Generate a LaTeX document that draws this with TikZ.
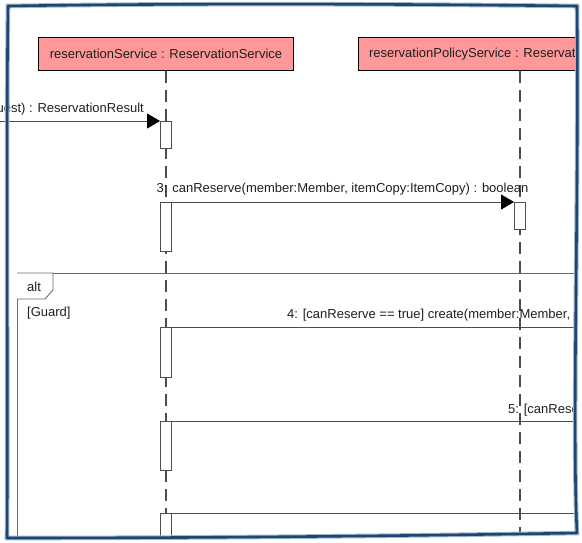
\documentclass[tikz,border=0pt]{standalone}
\usepackage{fontspec}
\setmainfont{Liberation Sans}
\usetikzlibrary{arrows.meta,positioning,calc}
\definecolor{SeqPink}{HTML}{FF9999}
\definecolor{SeqGray}{HTML}{4D4D4D}
\definecolor{FrameBlue}{HTML}{1D4772}
\definecolor{FrameShade}{HTML}{A3B7CC}

\begin{document}
\begin{tikzpicture}[x=1pt,y=-1pt, every node/.style={font=\fontsize{13}{15}\selectfont,text=black!88}, life/.style={draw=black,line width=1.6pt,fill=SeqPink,minimum width=255pt,minimum height=33pt,inner sep=0pt}, lline/.style={SeqGray,line width=1.2pt,dash pattern=on 12pt off 7pt}, act/.style={draw=SeqGray,fill=white,line width=0.9pt,minimum width=11pt,inner sep=0pt,anchor=north}, msg/.style={SeqGray,line width=0.9pt,-{Triangle[length=13pt,width=15pt,black]}}, sync/.style={SeqGray,line width=0.9pt}, frag/.style={draw=SeqGray!85,line width=0.9pt}, lbl/.style={inner sep=0pt}]
\useasboundingbox (0,0) rectangle (582,543);
\begin{scope}
\clip (0,0) rectangle (576,535);
\node[life] (resv) at (166,54) {reservationService : ReservationService};
\node[life,minimum width=323pt] (policy) at (520,54) {reservationPolicyService : ReservationPolicyService};
\coordinate (resvEnd) at (166,545);
\coordinate (policyEnd) at (520,545);
\draw[lline] (resv.south) -- (resvEnd);
\draw[lline] (policy.south) -- (policyEnd);
\draw[frag] (580,273) -- (17,273) -- (17,540);
\draw[frag,fill=white] (17,273) -- (53,273) -- (53,290) -- (45,299) -- (17,299);
\node[lbl,anchor=base west] (altTag) at (27,291) {alt};
\node[lbl,anchor=base west] (guard) at (27,316) {[Guard]};
\node[act,minimum height=27pt] (a1) at (166,121) {};
\node[act,minimum height=49pt] (a2) at (166,202) {};
\node[act,minimum height=27pt] (a3) at (520,202) {};
\node[act,minimum height=50pt] (a4) at (166,327) {};
\node[act,minimum height=49pt] (a5) at (166,421) {};
\node[act,minimum height=40pt] (a6) at (166,513) {};
\coordinate (m1start) at (-5,121);
\coordinate (m4end) at (580,327);
\coordinate (m5end) at (580,421);
\coordinate (m6end) at (580,513);
\draw[msg] (m1start) -- (a1.north west);
\node[lbl,anchor=base east] (m1lbl) at (144,113) {Request) : ReservationResult};
\draw[msg] (a2.north east) -- (a3.north west);
\node[lbl,anchor=base] (m3lbl) at (342.5,193) {3: canReserve(member:Member, itemCopy:ItemCopy) : boolean};
\draw[sync] (a4.north east) -- (m4end);
\node[lbl,anchor=base west] (m4lbl) at (287,318) {4: [canReserve == true] create(member:Member,};
\draw[sync] (a5.north east) -- (m5end);
\node[lbl,anchor=base west] (m5lbl) at (508,413) {5: [canRese};
\draw[sync] (a6.north east) -- (m6end);
\end{scope}
\draw[FrameBlue,line width=2.6pt,line join=round,preaction={draw,FrameShade,line width=4.6pt}] (8,6) .. controls (200,3) and (400,4) .. (577,6) .. controls (579,200) and (572,430) .. (577,533) .. controls (400,536) and (200,538) .. (7,538) .. controls (8,400) and (6,150) .. cycle;
\end{tikzpicture}
\end{document}
